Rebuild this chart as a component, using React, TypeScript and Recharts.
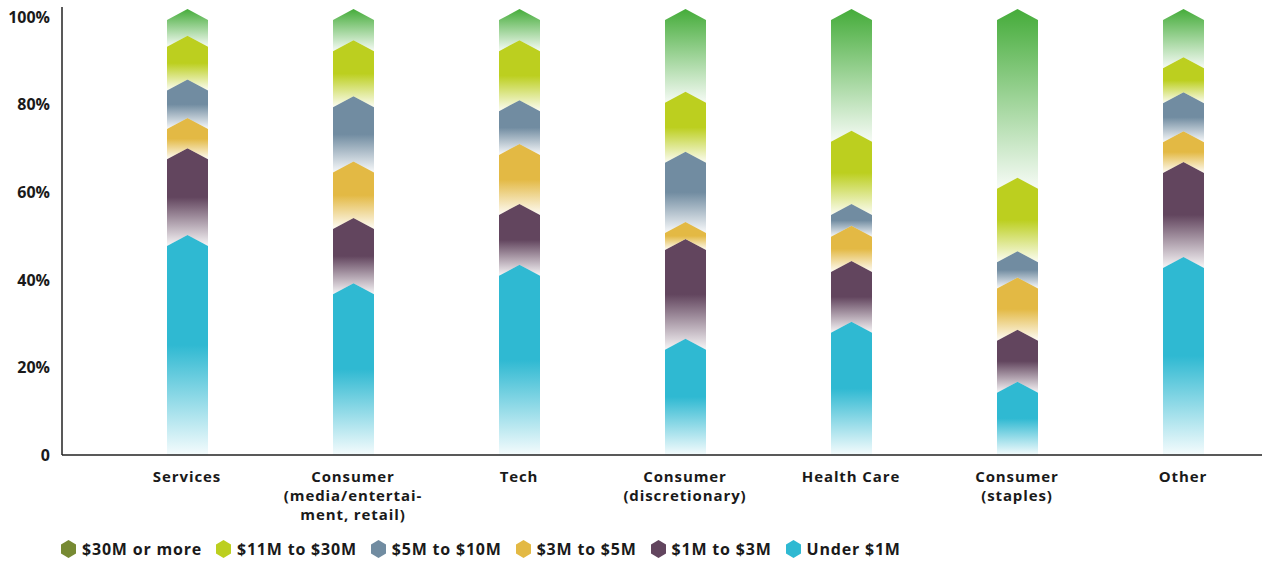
import React from 'react';
import { BarChart, Bar, XAxis, YAxis } from 'recharts';

const categories = ['Services', 'Consumer media', 'Tech', 'Consumer discretionary', 'Health Care', 'Consumer staples', 'Other'];
const categoryLines = [
  ['Services'],
  ['Consumer', '(media/entertai-', 'ment, retail)'],
  ['Tech'],
  ['Consumer', '(discretionary)'],
  ['Health Care'],
  ['Consumer', '(staples)'],
  ['Other'],
];

// shares in %, bottom of the stack first
const under1M = [48.4, 37.4, 41.6, 24.7, 28.6, 14.9, 43.4];
const m1to3 = [19.8, 14.9, 13.9, 22.8, 13.9, 11.9, 21.7];
const m3to5 = [6.9, 12.9, 13.7, 3.9, 8.0, 11.9, 7.0];
const m5to10 = [8.8, 14.9, 10.0, 16.0, 5.0, 6.0, 8.9];
const m11to30 = [10.0, 12.8, 13.7, 13.7, 16.7, 16.8, 8.0];
const m30plus = [6.1, 7.1, 7.1, 18.9, 27.8, 38.5, 11.0];

const yTicks = [0, 20, 40, 60, 80, 100];

const series = [
  { key: 'under1M', label: 'Under $1M', color: '#2fb9d2', legend: '#2fb9d2', fade: 0.5, values: under1M },
  { key: 'm1to3', label: '$1M to $3M', color: '#62455e', legend: '#62455e', fade: 0.5, values: m1to3 },
  { key: 'm3to5', label: '$3M to $5M', color: '#e3b944', legend: '#e3b944', fade: 0.5, values: m3to5 },
  { key: 'm5to10', label: '$5M to $10M', color: '#718ca1', legend: '#718ca1', fade: 0.5, values: m5to10 },
  { key: 'm11to30', label: '$11M to $30M', color: '#bccf1f', legend: '#bccf1f', fade: 0.5, values: m11to30 },
  { key: 'm30plus', label: '$30M or more', color: '#45ac3a', legend: '#778a33', fade: 0, values: m30plus },
];

const data = categories.map((name, i) => {
  const row: Record<string, any> = { name };
  series.forEach((s) => { row[s.key] = s.values[i]; });
  return row;
});

const FONT = '"Open Sans", sans-serif';

const makeShape = (isBase: boolean, gradId: string) => (props: any) => {
  const { x, y, width, height } = props;
  if (!height) return null;
  const cx = x + width / 2;
  const bottom = y + height;
  let d = `M${x},${y + 3} L${cx},${y - 8} L${x + width},${y + 3}`;
  if (isBase) d += ` L${x + width},${bottom} L${x},${bottom} Z`;
  else d += ` L${x + width},${bottom + 3} L${cx},${bottom - 8} L${x},${bottom + 3} Z`;
  return <path d={d} fill={`url(#${gradId})`} />;
};

const CategoryTick = (props: any) => {
  const { x, y, payload, index } = props;
  const lines = categoryLines[index] || [payload.value];
  return (
    <text x={x} y={y} textAnchor="middle" fontFamily={FONT} fontWeight={700} fontSize={15} letterSpacing={0.9} fill="#1a1a1a">
      {lines.map((l: string, i: number) => (
        <tspan key={i} x={x} dy={i === 0 ? 19 : 19}>{l}</tspan>
      ))}
    </text>
  );
};

const Hex = ({ color }: { color: string }) => (
  <svg width={15} height={18} style={{ display: 'block' }}>
    <path d="M7.5,0 L15,4.5 L15,13.5 L7.5,18 L0,13.5 L0,4.5 Z" fill={color} />
  </svg>
);

const Legend = () => (
  <div style={{ position: 'absolute', left: 61, top: 538, display: 'flex', alignItems: 'center', fontFamily: FONT, fontWeight: 700, fontSize: 16, letterSpacing: 0.8, color: '#1a1a1a' }}>
    {[...series].reverse().map((s) => (
      <div key={s.key} style={{ display: 'flex', alignItems: 'center', marginRight: 14 }}>
        <Hex color={s.legend} />
        <span style={{ marginLeft: 6 }}>{s.label}</span>
      </div>
    ))}
  </div>
);

export default function App() {
  return (
    <div style={{ position: 'absolute', left: 0, top: 0, width: 1262, height: 562, overflow: 'hidden', background: '#fff' }}>
      <BarChart width={1270} height={562} data={data} margin={{ top: 7, right: 4, left: 0, bottom: 27 }} barSize={41}>
        <defs>
          {series.map((s) => (
            <linearGradient key={s.key} id={`g-${s.key}`} x1="0" y1="0" x2="0" y2="1">
              <stop offset="0" stopColor={s.color} />
              <stop offset={s.fade} stopColor={s.color} />
              <stop offset="1" stopColor={s.color} stopOpacity={0.05} />
            </linearGradient>
          ))}
        </defs>
        <XAxis dataKey="name" interval={0} tickLine={false} axisLine={{ stroke: '#222', strokeWidth: 1.5 }} tick={<CategoryTick />} height={80} padding={{ left: 42, right: 0 }} />
        <YAxis type="number" domain={[0, 102.3]} ticks={yTicks} allowDataOverflow width={62} tickLine={false} tickSize={6} tickMargin={6}
          axisLine={{ stroke: '#222', strokeWidth: 1.5 }}
          tickFormatter={(v: number) => (v === 0 ? '0' : `${v}%`)}
          tick={{ fontFamily: FONT, fontWeight: 700, fontSize: 16, fill: '#1a1a1a' }} />
        {series.map((s, i) => (
          <Bar key={s.key} dataKey={s.key} stackId="a" isAnimationActive={false} shape={makeShape(i === 0, `g-${s.key}`)} />
        ))}
      </BarChart>
      <Legend />
    </div>
  );
}
